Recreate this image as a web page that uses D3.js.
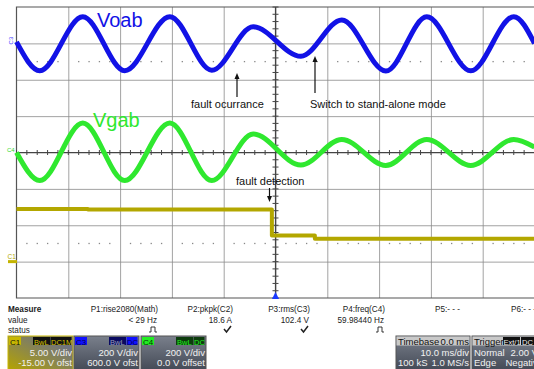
<!DOCTYPE html>
<html lang="en">
<head>
<meta charset="UTF-8" />
<title>Fault ride-through capture</title>
<style>
  body { margin: 0; background: #fff; }
  svg { display: block; font-family: "Liberation Sans", Arial, sans-serif; }
</style>
</head>
<body>
<svg width="534" height="369"></svg>
<script src="https://d3js.org/d3.v7.min.js"></script>
<script>
// C3 Voab: turning points (ms, V)
const voabTime = [-50, -45.5, -37.2, -29.1, -20.4, -12.3, -4.3, 4.9, 12.8, 21.3, 29.2, 37.7, 46, 50];
const voabVolt = [8, -150, 147, -150, 147, -148, 91, -71, 129, -152, 146, -151, 147, 0];

// C4 Vgab
const vgabTime = [-50, -45.5, -37.2, -29.1, -20.4, -12.3, -4.3, 4.9, 12.8, 21.3, 29.2, 37.7, 46, 50];
const vgabVolt = [0, -154, 162, -154, 162, -154, 102, -69, 72, -71, 72, -71, 72, 30];

// C1 fault detection signal
const detTime = [-50, -36.2, -0.7, 7.6, 50];
const detVolt = [7.25, 7.15, 3.6, 3.15, 3.15];

// measurement table
const measNames = ["P1:rise2080(Math)", "P2:pkpk(C2)", "P3:rms(C3)", "P4:freq(C4)", "P5:- - -", "P6:- - -"];
const measValues = ["< 29 Hz", "18.6 A", "102.4 V", "59.98440 Hz", "", ""];
const measStatus = ["pulse", "check", "check", "pulse", "", ""];

// channel descriptors
const chanNames = ["C1", "C3", "C4"];
const chanScale = ["5.00 V/div", "200 V/div", "200 V/div"];
const chanOffset = ["-15.00 V ofst", "600.0 V ofst", "0.0 V offset"];
const chanTags = [["BwL", "DC1M"], ["BwL", "DC"], ["BwL", "DC"]];

const svg = d3.select("svg");

const plotL = 16.5, plotR = 534.5, plotT = 7, plotB = 298;
const x = d3.scaleLinear().domain([-50, 50]).range([plotL, plotR]);
const y = d3.scaleLinear().domain([-4, 4]).range([plotB, plotT]);

// grid
const grid = svg.append("g");
grid.append("g")
  .attr("transform", `translate(0,${plotT})`)
  .call(d3.axisBottom(x).tickValues(d3.range(-40, 50, 10)).tickSize(plotB - plotT).tickFormat(""))
  .call(g => g.select(".domain").remove())
  .selectAll("line").attr("stroke", "#8a8a8a").attr("stroke-width", 0.8);
grid.append("g")
  .attr("transform", `translate(${plotL},0)`)
  .call(d3.axisRight(y).tickValues(d3.range(-3, 4, 1)).tickSize(plotR - plotL).tickFormat(""))
  .call(g => g.select(".domain").remove())
  .selectAll("line").attr("stroke", "#8a8a8a").attr("stroke-width", 0.8);

// frame
grid.append("path")
  .attr("d", `M${plotR},${plotT}H${plotL}V${plotB}H${plotR}`)
  .attr("fill", "none").attr("stroke", "#555").attr("stroke-width", 1.2);

// center axes with minor ticks
grid.append("line").attr("x1", x(0)).attr("x2", x(0)).attr("y1", plotT).attr("y2", plotB)
  .attr("stroke", "#444").attr("stroke-width", 1.2);
grid.append("line").attr("x1", plotL).attr("x2", plotR).attr("y1", y(0)).attr("y2", y(0))
  .attr("stroke", "#444").attr("stroke-width", 1.2);
grid.selectAll(".vt").data(d3.range(-4, 4.01, 0.2)).join("line")
  .attr("x1", x(0) - 3).attr("x2", x(0) + 3)
  .attr("y1", d => y(d)).attr("y2", d => y(d))
  .attr("stroke", "#444").attr("stroke-width", 1);
grid.selectAll(".ht").data(d3.range(-50, 50.01, 2)).join("line")
  .attr("x1", d => x(d)).attr("x2", d => x(d))
  .attr("y1", y(0) - 2.5).attr("y2", y(0) + 2.5)
  .attr("stroke", "#444").attr("stroke-width", 1);

// dotted reference rows
const dots = d3.range(-48, 50, 2).filter(t => t % 10 !== 0);
[2.5, -2.5].forEach(lvl => {
  grid.append("g").selectAll("rect").data(dots).join("rect")
    .attr("x", d => x(d) - 0.6).attr("y", y(lvl) - 0.6)
    .attr("width", 1.3).attr("height", 1.3).attr("fill", "#888");
});

// traces
const traces = [
  { t: detTime, v: detVolt, offset: -15, vdiv: 5, color: "#b3a700", width: 4, curve: d3.curveStepAfter },
  { t: vgabTime, v: vgabVolt, offset: 0, vdiv: 200, color: "#2fe82f", width: 5, curve: d3.curveMonotoneX },
  { t: voabTime, v: voabVolt, offset: 600, vdiv: 200, color: "#1212e6", width: 5, curve: d3.curveMonotoneX }
];
traces.forEach(tr => {
  const pts = tr.t.map((t, i) => [t, tr.v[i]]);
  const line = d3.line()
    .x(d => x(d[0]))
    .y(d => y((d[1] + tr.offset) / tr.vdiv))
    .curve(tr.curve);
  svg.append("path").datum(pts)
    .attr("d", line)
    .attr("fill", "none")
    .attr("stroke", tr.color)
    .attr("stroke-width", tr.width)
    .attr("stroke-linejoin", "round");
});

// channel ground markers
svg.append("text").attr("transform", `translate(13,${y(3) + 1}) rotate(-90)`)
  .attr("font-size", 6).attr("fill", "#3a3aff").text("C3");
svg.append("text").attr("x", 7).attr("y", y(0) - 0.5)
  .attr("font-size", 6).attr("fill", "#2fd82f").text("C4");
svg.append("text").attr("x", 7.5).attr("y", y(-3) - 2.5)
  .attr("font-size", 6.5).attr("fill", "#b3a700").text("C1");
svg.append("rect").attr("x", 8).attr("y", y(-3) - 1.5).attr("width", 9).attr("height", 3).attr("fill", "#c4b400");

// labels
svg.append("text").attr("x", 97).attr("y", 27).attr("font-size", 20).attr("fill", "#1212e6").text("Voab");
svg.append("text").attr("x", 93).attr("y", 127).attr("font-size", 20).attr("fill", "#2fe82f").text("Vgab");

const notes = svg.append("g").attr("font-size", 11).attr("fill", "#111");
notes.append("text").attr("x", 191).attr("y", 108).text("fault ocurrance");
notes.append("text").attr("x", 310).attr("y", 108).text("Switch to stand-alone mode");
notes.append("text").attr("x", 236).attr("y", 185).text("fault detection");

function arrow(x0, y0, y1) {
  const dir = y1 < y0 ? 1 : -1;
  svg.append("line").attr("x1", x0).attr("x2", x0).attr("y1", y0).attr("y2", y1 + dir * 4)
    .attr("stroke", "#111").attr("stroke-width", 1.2);
  svg.append("path")
    .attr("d", `M${x0},${y1}L${x0 - 2.5},${y1 + dir * 6}L${x0 + 2.5},${y1 + dir * 6}Z`)
    .attr("fill", "#111");
}
arrow(237, 97, 73);
arrow(315, 93, 56);
arrow(269.5, 188, 202);

// trigger position marker
svg.append("path")
  .attr("d", `M${x(0)},${plotB - 6}L${x(0) - 3.5},${plotB + 1}L${x(0) + 3.5},${plotB + 1}Z`)
  .attr("fill", "#1a3aff");

// measurement table
const meas = svg.append("g").attr("font-size", 8.2).attr("fill", "#222");
meas.append("text").attr("x", 8).attr("y", 312).attr("font-weight", "bold").text("Measure");
meas.append("text").attr("x", 8).attr("y", 323).text("value");
meas.append("text").attr("x", 8).attr("y", 333).text("status");
const colRight = [158, 233, 310, 385, 460, 536];
measNames.forEach((name, i) => {
  meas.append("text").attr("x", colRight[i]).attr("y", 312).attr("text-anchor", "end").text(name);
  meas.append("text").attr("x", colRight[i] - 1).attr("y", 323).attr("text-anchor", "end").text(measValues[i]);
  const sx = colRight[i] - 5;
  if (measStatus[i] === "check") {
    meas.append("path").attr("d", `M${sx - 4},${329}L${sx - 1.5},${332}L${sx + 3},${326}`)
      .attr("fill", "none").attr("stroke", "#222").attr("stroke-width", 1.5);
  } else if (measStatus[i] === "pulse") {
    meas.append("path").attr("d", `M${sx - 4},${332}H${sx - 2}V${327}H${sx + 2}V${332}H${sx + 4}`)
      .attr("fill", "none").attr("stroke", "#222").attr("stroke-width", 0.9);
  }
});

// channel boxes
const defs = svg.append("defs");
const gGray = defs.append("linearGradient").attr("id", "gray").attr("x1", 0).attr("y1", 0).attr("x2", 0).attr("y2", 1);
gGray.append("stop").attr("offset", 0).attr("stop-color", "#7a808c");
gGray.append("stop").attr("offset", 1).attr("stop-color", "#444a56");
const gYel = defs.append("linearGradient").attr("id", "yel").attr("x1", 1).attr("y1", 0).attr("x2", 0).attr("y2", 1);
gYel.append("stop").attr("offset", 0.2).attr("stop-color", "#6f7380");
gYel.append("stop").attr("offset", 1).attr("stop-color", "#b5a400");

const tagFill = [["#c9b800", "#111"], ["#1010ff", "#0a0a60"], ["#22ee22", "#0d3d0d"]];
const tagText = [["#111", "#d6c400"], ["#000050", "#9aa0b8"], ["#053005", "#22ee22"]];
const boxX = [8, 74, 141];
chanNames.forEach((name, i) => {
  const bx = boxX[i], bw = 65;
  const g = svg.append("g").attr("font-size", 9.5);
  g.append("rect").attr("x", bx).attr("y", 336).attr("width", bw).attr("height", 34)
    .attr("fill", i === 0 ? "url(#yel)" : "url(#gray)")
    .attr("stroke", i === 0 ? "#c9b800" : "#555").attr("stroke-width", 1);
  g.append("rect").attr("x", bx + 1).attr("y", 337).attr("width", 12).attr("height", 8).attr("fill", tagFill[i][0]);
  g.append("text").attr("x", bx + 2).attr("y", 344.5).attr("font-size", 8).attr("fill", tagText[i][0]).text(name);
  const [t1, t2] = chanTags[i];
  const w2 = t2.length * 5 + 1;
  g.append("rect").attr("x", bx + bw - 2 - w2 - 17).attr("y", 337).attr("width", 17).attr("height", 8).attr("fill", tagFill[i][1]);
  g.append("text").attr("x", bx + bw - 2 - w2 - 16).attr("y", 344.5).attr("font-size", 7.5).attr("fill", tagText[i][1]).text(t1);
  g.append("rect").attr("x", bx + bw - 1.5 - w2).attr("y", 337).attr("width", w2).attr("height", 8)
    .attr("fill", i === 1 ? "#1010ff" : tagFill[i][1]);
  g.append("text").attr("x", bx + bw - 1 - w2).attr("y", 344.5).attr("font-size", 7.5)
    .attr("fill", i === 1 ? "#000050" : tagText[i][1]).text(t2);
  g.append("text").attr("x", bx + bw - 1).attr("y", 356).attr("text-anchor", "end").attr("fill", "#f2f2f2").text(chanScale[i]);
  g.append("text").attr("x", bx + bw - 1).attr("y", 366).attr("text-anchor", "end").attr("fill", "#f2f2f2").text(chanOffset[i]);
});

// timebase box
const tb = svg.append("g").attr("font-size", 9.5);
tb.append("rect").attr("x", 396).attr("y", 336).attr("width", 74).attr("height", 34).attr("fill", "url(#gray)").attr("stroke", "#555");
tb.append("rect").attr("x", 396.5).attr("y", 336.5).attr("width", 73).attr("height", 9).attr("fill", "#c9c9c9");
tb.append("text").attr("x", 398).attr("y", 344.5).attr("fill", "#111").text("Timebase");
tb.append("text").attr("x", 469).attr("y", 344.5).attr("text-anchor", "end").attr("fill", "#111").text("0.0 ms");
tb.append("text").attr("x", 469).attr("y", 356).attr("text-anchor", "end").attr("fill", "#f2f2f2").text("10.0 ms/div");
tb.append("text").attr("x", 398).attr("y", 366).attr("fill", "#f2f2f2").text("100 kS");
tb.append("text").attr("x", 469).attr("y", 366).attr("text-anchor", "end").attr("fill", "#f2f2f2").text("1.0 MS/s");

// trigger box
const tg = svg.append("g").attr("font-size", 9.5);
tg.append("rect").attr("x", 472).attr("y", 336).attr("width", 66).attr("height", 34).attr("fill", "url(#gray)").attr("stroke", "#555");
tg.append("rect").attr("x", 472.5).attr("y", 336.5).attr("width", 65).attr("height", 9).attr("fill", "#c9c9c9");
tg.append("text").attr("x", 474).attr("y", 344.5).attr("fill", "#111").text("Trigger");
tg.append("rect").attr("x", 503).attr("y", 337).attr("width", 17).attr("height", 8).attr("fill", "#111");
tg.append("text").attr("x", 503.5).attr("y", 344.5).attr("font-size", 7.5).attr("fill", "#eee").text("Ext/10");
tg.append("rect").attr("x", 521).attr("y", 337).attr("width", 14).attr("height", 8).attr("fill", "#111");
tg.append("text").attr("x", 522).attr("y", 344.5).attr("font-size", 7.5).attr("fill", "#eee").text("DC");
tg.append("text").attr("x", 474).attr("y", 356).attr("fill", "#f2f2f2").text("Normal");
tg.append("text").attr("x", 538).attr("y", 356).attr("text-anchor", "end").attr("fill", "#f2f2f2").text("2.00 V");
tg.append("text").attr("x", 474).attr("y", 366).attr("fill", "#f2f2f2").text("Edge");
tg.append("text").attr("x", 543).attr("y", 366).attr("text-anchor", "end").attr("fill", "#f2f2f2").text("Negative");
</script>
</body>
</html>
